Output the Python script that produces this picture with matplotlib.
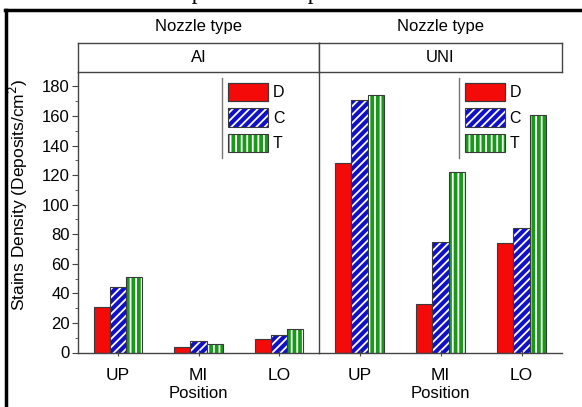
import matplotlib
matplotlib.use('Agg')
import matplotlib.pyplot as plt
import numpy as np
from matplotlib.patches import Patch
from matplotlib.lines import Line2D

plt.rcParams['font.family'] = ['Liberation Sans', 'DejaVu Sans']
plt.rcParams['hatch.linewidth'] = 1.3

positions = ['UP', 'MI', 'LO']
nozzles = ['AI', 'UNI']
series = ['D', 'C', 'T']

# deposits per cm^2 for each nozzle, position order UP/MI/LO
ai_d = [31, 4, 9]
ai_c = [44, 8, 12]
ai_t = [51, 6, 16]
uni_d = [128, 33, 74]
uni_c = [171, 75, 84]
uni_t = [174, 122, 161]

colors = {'D': '#f50a0a', 'C': '#1010c8', 'T': '#179a17'}
hatches = {'D': None, 'C': '////', 'T': '|||'}
edge = '#3a3a3a'

W, H = 582, 407
fig = plt.figure(figsize=(W / 100, H / 100), dpi=100)


def fx(px):
    return px / W


def fy(py):
    return 1 - py / H


left, mid, right = 78, 319, 562
top, bottom = 71.7, 352.5
hdr_top = 43

ax1 = fig.add_axes([fx(left), fy(bottom), fx(mid - left), (bottom - top) / H])
ax2 = fig.add_axes([fx(mid), fy(bottom), fx(right - mid), (bottom - top) / H], sharey=ax1)

data = {'AI': [ai_d, ai_c, ai_t], 'UNI': [uni_d, uni_c, uni_t]}
x = np.arange(1, len(positions) + 1)
bw = 0.2

for ax, nz in zip((ax1, ax2), nozzles):
    for i, s in enumerate(series):
        xs = x + (i - 1) * bw
        vals = data[nz][i]
        if hatches[s]:
            ax.bar(xs, vals, bw, color=colors[s], edgecolor='white',
                   hatch=hatches[s], linewidth=0)
            ax.bar(xs, vals, bw, fill=False, edgecolor=edge, linewidth=0.8)
        else:
            ax.bar(xs, vals, bw, color=colors[s], edgecolor=edge, linewidth=0.8)
    ax.set_xlim(0.5, 3.5)
    ax.set_ylim(0, 190)
    ax.set_xticks(x)
    ax.set_xticklabels(positions, fontsize=12.5)
    ax.tick_params(axis='x', direction='inout', length=5, color='#444', pad=9)
    ax.spines['top'].set_visible(False)
    ax.spines['right'].set_visible(False)
    for sp in ax.spines.values():
        sp.set_color('#444')
        sp.set_linewidth(1.0)
    ax.set_xlabel('Position', fontsize=12, labelpad=2)

    # legend with a thin bar to its left
    handles = []
    for s in series:
        face = Patch(facecolor=colors[s], edgecolor='white' if hatches[s] else edge,
                     hatch=hatches[s], linewidth=0 if hatches[s] else 0.8)
        outline = Patch(fill=False, edgecolor=edge, linewidth=0.8)
        handles.append((face, outline))
    lx = 0.598 if nz == 'AI' else 0.575
    ax.plot([lx, lx], [0.693, 0.978], transform=ax.transAxes, color='#777', lw=1)
    ax.legend(handles, series, loc='upper left', bbox_to_anchor=(lx + 0.006, 0.978),
              frameon=False, fontsize=11.5, handlelength=2.5, handleheight=1.4,
              labelspacing=0.45, handletextpad=0.3, borderpad=0.3,
              borderaxespad=0)

ax1.set_yticks(np.arange(0, 181, 20))
ax1.set_yticks(np.arange(0, 181, 10), minor=True)
ax1.tick_params(axis='y', labelsize=12, length=4, color='#444', pad=2)
ax1.tick_params(axis='y', which='minor', length=2, color='#444')
ax1.set_ylabel('Stains Density (Deposits/cm$^2$)', fontsize=12.5)
ax1.yaxis.set_label_coords(-0.2, 0.56)
ax2.tick_params(axis='y', left=False, labelleft=False, which='both')

# nozzle type header strip
for x0, x1, nz in ((left, mid, 'AI'), (mid, right, 'UNI')):
    hax = fig.add_axes([fx(x0), fy(top), fx(x1 - x0), (top - hdr_top) / H])
    hax.set_xticks([])
    hax.set_yticks([])
    for sp in hax.spines.values():
        sp.set_color('#444')
        sp.set_linewidth(1.0)
    hax.text(0.5, 0.5, nz, ha='center', va='center', fontsize=12,
             transform=hax.transAxes)
    fig.text(fx((x0 + x1) / 2), fy(26), 'Nozzle type', ha='center', va='center',
             fontsize=12)

# page frame and the clipped caption line above it
fig.add_artist(Line2D([fx(6), fx(6)], [0, fy(9.5)], color='black', lw=2.5))
fig.add_artist(Line2D([fx(5), 1], [fy(9.5), fy(9.5)], color='black', lw=2.5))
fig.text(fx(8), 1 + 1.5 / H, 'al the number of deposits on a spot of area.',
         family='Liberation Serif', fontsize=17, va='baseline', ha='left')

fig.savefig('out.png', dpi=100)
